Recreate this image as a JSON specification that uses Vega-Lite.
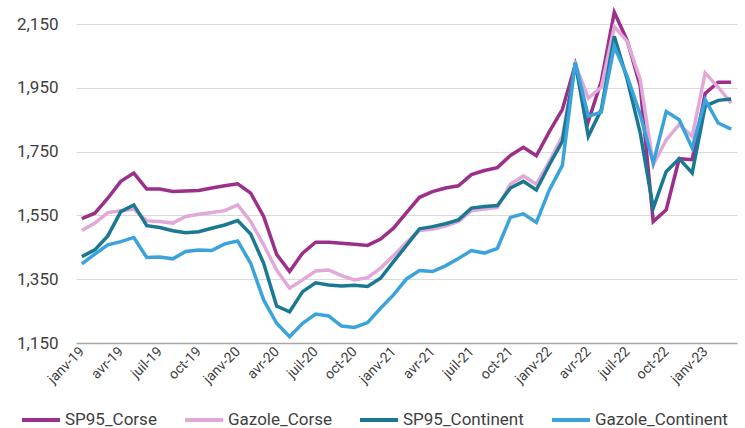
{
  "$schema": "https://vega.github.io/schema/vega-lite/v6.json",
  "width": 661,
  "height": 338,
  "autosize": {"type": "none"},
  "padding": {"left": 76, "top": 5, "right": 8, "bottom": 85},
  "background": "white",
  "config": {
    "view": {"stroke": null},
    "font": "Roboto"
  },
  "data": {
    "values": [
      {"mois":"janv-19","serie":"SP95_Corse","prix":1.540},
      {"mois":"févr-19","serie":"SP95_Corse","prix":1.557},
      {"mois":"mars-19","serie":"SP95_Corse","prix":1.604},
      {"mois":"avr-19","serie":"SP95_Corse","prix":1.657},
      {"mois":"mai-19","serie":"SP95_Corse","prix":1.683},
      {"mois":"juin-19","serie":"SP95_Corse","prix":1.633},
      {"mois":"juil-19","serie":"SP95_Corse","prix":1.633},
      {"mois":"août-19","serie":"SP95_Corse","prix":1.625},
      {"mois":"sept-19","serie":"SP95_Corse","prix":1.627},
      {"mois":"oct-19","serie":"SP95_Corse","prix":1.628},
      {"mois":"nov-19","serie":"SP95_Corse","prix":1.636},
      {"mois":"déc-19","serie":"SP95_Corse","prix":1.643},
      {"mois":"janv-20","serie":"SP95_Corse","prix":1.649},
      {"mois":"févr-20","serie":"SP95_Corse","prix":1.620},
      {"mois":"mars-20","serie":"SP95_Corse","prix":1.547},
      {"mois":"avr-20","serie":"SP95_Corse","prix":1.428},
      {"mois":"mai-20","serie":"SP95_Corse","prix":1.374},
      {"mois":"juin-20","serie":"SP95_Corse","prix":1.432},
      {"mois":"juil-20","serie":"SP95_Corse","prix":1.466},
      {"mois":"août-20","serie":"SP95_Corse","prix":1.466},
      {"mois":"sept-20","serie":"SP95_Corse","prix":1.463},
      {"mois":"oct-20","serie":"SP95_Corse","prix":1.460},
      {"mois":"nov-20","serie":"SP95_Corse","prix":1.456},
      {"mois":"déc-20","serie":"SP95_Corse","prix":1.476},
      {"mois":"janv-21","serie":"SP95_Corse","prix":1.510},
      {"mois":"févr-21","serie":"SP95_Corse","prix":1.559},
      {"mois":"mars-21","serie":"SP95_Corse","prix":1.607},
      {"mois":"avr-21","serie":"SP95_Corse","prix":1.625},
      {"mois":"mai-21","serie":"SP95_Corse","prix":1.636},
      {"mois":"juin-21","serie":"SP95_Corse","prix":1.643},
      {"mois":"juil-21","serie":"SP95_Corse","prix":1.678},
      {"mois":"août-21","serie":"SP95_Corse","prix":1.691},
      {"mois":"sept-21","serie":"SP95_Corse","prix":1.700},
      {"mois":"oct-21","serie":"SP95_Corse","prix":1.738},
      {"mois":"nov-21","serie":"SP95_Corse","prix":1.764},
      {"mois":"déc-21","serie":"SP95_Corse","prix":1.737},
      {"mois":"janv-22","serie":"SP95_Corse","prix":1.813},
      {"mois":"févr-22","serie":"SP95_Corse","prix":1.882},
      {"mois":"mars-22","serie":"SP95_Corse","prix":2.023},
      {"mois":"avr-22","serie":"SP95_Corse","prix":1.845},
      {"mois":"mai-22","serie":"SP95_Corse","prix":1.971},
      {"mois":"juin-22","serie":"SP95_Corse","prix":2.187},
      {"mois":"juil-22","serie":"SP95_Corse","prix":2.098},
      {"mois":"août-22","serie":"SP95_Corse","prix":1.955},
      {"mois":"sept-22","serie":"SP95_Corse","prix":1.531},
      {"mois":"oct-22","serie":"SP95_Corse","prix":1.568},
      {"mois":"nov-22","serie":"SP95_Corse","prix":1.728},
      {"mois":"déc-22","serie":"SP95_Corse","prix":1.725},
      {"mois":"janv-23","serie":"SP95_Corse","prix":1.933},
      {"mois":"févr-23","serie":"SP95_Corse","prix":1.968},
      {"mois":"mars-23","serie":"SP95_Corse","prix":1.968},

      {"mois":"janv-19","serie":"Gazole_Corse","prix":1.503},
      {"mois":"févr-19","serie":"Gazole_Corse","prix":1.526},
      {"mois":"mars-19","serie":"Gazole_Corse","prix":1.559},
      {"mois":"avr-19","serie":"Gazole_Corse","prix":1.565},
      {"mois":"mai-19","serie":"Gazole_Corse","prix":1.570},
      {"mois":"juin-19","serie":"Gazole_Corse","prix":1.533},
      {"mois":"juil-19","serie":"Gazole_Corse","prix":1.531},
      {"mois":"août-19","serie":"Gazole_Corse","prix":1.526},
      {"mois":"sept-19","serie":"Gazole_Corse","prix":1.547},
      {"mois":"oct-19","serie":"Gazole_Corse","prix":1.554},
      {"mois":"nov-19","serie":"Gazole_Corse","prix":1.559},
      {"mois":"déc-19","serie":"Gazole_Corse","prix":1.565},
      {"mois":"janv-20","serie":"Gazole_Corse","prix":1.583},
      {"mois":"févr-20","serie":"Gazole_Corse","prix":1.531},
      {"mois":"mars-20","serie":"Gazole_Corse","prix":1.458},
      {"mois":"avr-20","serie":"Gazole_Corse","prix":1.379},
      {"mois":"mai-20","serie":"Gazole_Corse","prix":1.322},
      {"mois":"juin-20","serie":"Gazole_Corse","prix":1.348},
      {"mois":"juil-20","serie":"Gazole_Corse","prix":1.376},
      {"mois":"août-20","serie":"Gazole_Corse","prix":1.379},
      {"mois":"sept-20","serie":"Gazole_Corse","prix":1.361},
      {"mois":"oct-20","serie":"Gazole_Corse","prix":1.348},
      {"mois":"nov-20","serie":"Gazole_Corse","prix":1.355},
      {"mois":"déc-20","serie":"Gazole_Corse","prix":1.385},
      {"mois":"janv-21","serie":"Gazole_Corse","prix":1.424},
      {"mois":"févr-21","serie":"Gazole_Corse","prix":1.465},
      {"mois":"mars-21","serie":"Gazole_Corse","prix":1.503},
      {"mois":"avr-21","serie":"Gazole_Corse","prix":1.507},
      {"mois":"mai-21","serie":"Gazole_Corse","prix":1.517},
      {"mois":"juin-21","serie":"Gazole_Corse","prix":1.531},
      {"mois":"juil-21","serie":"Gazole_Corse","prix":1.565},
      {"mois":"août-21","serie":"Gazole_Corse","prix":1.570},
      {"mois":"sept-21","serie":"Gazole_Corse","prix":1.575},
      {"mois":"oct-21","serie":"Gazole_Corse","prix":1.648},
      {"mois":"nov-21","serie":"Gazole_Corse","prix":1.674},
      {"mois":"déc-21","serie":"Gazole_Corse","prix":1.648},
      {"mois":"janv-22","serie":"Gazole_Corse","prix":1.719},
      {"mois":"févr-22","serie":"Gazole_Corse","prix":1.798},
      {"mois":"mars-22","serie":"Gazole_Corse","prix":2.023},
      {"mois":"avr-22","serie":"Gazole_Corse","prix":1.918},
      {"mois":"mai-22","serie":"Gazole_Corse","prix":1.952},
      {"mois":"juin-22","serie":"Gazole_Corse","prix":2.142},
      {"mois":"juil-22","serie":"Gazole_Corse","prix":2.096},
      {"mois":"août-22","serie":"Gazole_Corse","prix":1.976},
      {"mois":"sept-22","serie":"Gazole_Corse","prix":1.709},
      {"mois":"oct-22","serie":"Gazole_Corse","prix":1.787},
      {"mois":"nov-22","serie":"Gazole_Corse","prix":1.835},
      {"mois":"déc-22","serie":"Gazole_Corse","prix":1.798},
      {"mois":"janv-23","serie":"Gazole_Corse","prix":1.997},
      {"mois":"févr-23","serie":"Gazole_Corse","prix":1.952},
      {"mois":"mars-23","serie":"Gazole_Corse","prix":1.902},

      {"mois":"janv-19","serie":"SP95_Continent","prix":1.421},
      {"mois":"févr-19","serie":"SP95_Continent","prix":1.442},
      {"mois":"mars-19","serie":"SP95_Continent","prix":1.486},
      {"mois":"avr-19","serie":"SP95_Continent","prix":1.562},
      {"mois":"mai-19","serie":"SP95_Continent","prix":1.583},
      {"mois":"juin-19","serie":"SP95_Continent","prix":1.518},
      {"mois":"juil-19","serie":"SP95_Continent","prix":1.512},
      {"mois":"août-19","serie":"SP95_Continent","prix":1.502},
      {"mois":"sept-19","serie":"SP95_Continent","prix":1.496},
      {"mois":"oct-19","serie":"SP95_Continent","prix":1.499},
      {"mois":"nov-19","serie":"SP95_Continent","prix":1.510},
      {"mois":"déc-19","serie":"SP95_Continent","prix":1.520},
      {"mois":"janv-20","serie":"SP95_Continent","prix":1.534},
      {"mois":"févr-20","serie":"SP95_Continent","prix":1.492},
      {"mois":"mars-20","serie":"SP95_Continent","prix":1.400},
      {"mois":"avr-20","serie":"SP95_Continent","prix":1.266},
      {"mois":"mai-20","serie":"SP95_Continent","prix":1.248},
      {"mois":"juin-20","serie":"SP95_Continent","prix":1.311},
      {"mois":"juil-20","serie":"SP95_Continent","prix":1.339},
      {"mois":"août-20","serie":"SP95_Continent","prix":1.332},
      {"mois":"sept-20","serie":"SP95_Continent","prix":1.329},
      {"mois":"oct-20","serie":"SP95_Continent","prix":1.331},
      {"mois":"nov-20","serie":"SP95_Continent","prix":1.327},
      {"mois":"déc-20","serie":"SP95_Continent","prix":1.353},
      {"mois":"janv-21","serie":"SP95_Continent","prix":1.405},
      {"mois":"févr-21","serie":"SP95_Continent","prix":1.456},
      {"mois":"mars-21","serie":"SP95_Continent","prix":1.508},
      {"mois":"avr-21","serie":"SP95_Continent","prix":1.515},
      {"mois":"mai-21","serie":"SP95_Continent","prix":1.524},
      {"mois":"juin-21","serie":"SP95_Continent","prix":1.536},
      {"mois":"juil-21","serie":"SP95_Continent","prix":1.573},
      {"mois":"août-21","serie":"SP95_Continent","prix":1.578},
      {"mois":"sept-21","serie":"SP95_Continent","prix":1.581},
      {"mois":"oct-21","serie":"SP95_Continent","prix":1.636},
      {"mois":"nov-21","serie":"SP95_Continent","prix":1.657},
      {"mois":"déc-21","serie":"SP95_Continent","prix":1.630},
      {"mois":"janv-22","serie":"SP95_Continent","prix":1.709},
      {"mois":"févr-22","serie":"SP95_Continent","prix":1.782},
      {"mois":"mars-22","serie":"SP95_Continent","prix":2.028},
      {"mois":"avr-22","serie":"SP95_Continent","prix":1.798},
      {"mois":"mai-22","serie":"SP95_Continent","prix":1.882},
      {"mois":"juin-22","serie":"SP95_Continent","prix":2.112},
      {"mois":"juil-22","serie":"SP95_Continent","prix":1.976},
      {"mois":"août-22","serie":"SP95_Continent","prix":1.808},
      {"mois":"sept-22","serie":"SP95_Continent","prix":1.573},
      {"mois":"oct-22","serie":"SP95_Continent","prix":1.688},
      {"mois":"nov-22","serie":"SP95_Continent","prix":1.728},
      {"mois":"déc-22","serie":"SP95_Continent","prix":1.683},
      {"mois":"janv-23","serie":"SP95_Continent","prix":1.893},
      {"mois":"févr-23","serie":"SP95_Continent","prix":1.911},
      {"mois":"mars-23","serie":"SP95_Continent","prix":1.915},

      {"mois":"janv-19","serie":"Gazole_Continent","prix":1.398},
      {"mois":"févr-19","serie":"Gazole_Continent","prix":1.429},
      {"mois":"mars-19","serie":"Gazole_Continent","prix":1.458},
      {"mois":"avr-19","serie":"Gazole_Continent","prix":1.468},
      {"mois":"mai-19","serie":"Gazole_Continent","prix":1.481},
      {"mois":"juin-19","serie":"Gazole_Continent","prix":1.418},
      {"mois":"juil-19","serie":"Gazole_Continent","prix":1.420},
      {"mois":"août-19","serie":"Gazole_Continent","prix":1.414},
      {"mois":"sept-19","serie":"Gazole_Continent","prix":1.437},
      {"mois":"oct-19","serie":"Gazole_Continent","prix":1.442},
      {"mois":"nov-19","serie":"Gazole_Continent","prix":1.440},
      {"mois":"déc-19","serie":"Gazole_Continent","prix":1.461},
      {"mois":"janv-20","serie":"Gazole_Continent","prix":1.470},
      {"mois":"févr-20","serie":"Gazole_Continent","prix":1.400},
      {"mois":"mars-20","serie":"Gazole_Continent","prix":1.285},
      {"mois":"avr-20","serie":"Gazole_Continent","prix":1.212},
      {"mois":"mai-20","serie":"Gazole_Continent","prix":1.170},
      {"mois":"juin-20","serie":"Gazole_Continent","prix":1.212},
      {"mois":"juil-20","serie":"Gazole_Continent","prix":1.241},
      {"mois":"août-20","serie":"Gazole_Continent","prix":1.235},
      {"mois":"sept-20","serie":"Gazole_Continent","prix":1.203},
      {"mois":"oct-20","serie":"Gazole_Continent","prix":1.199},
      {"mois":"nov-20","serie":"Gazole_Continent","prix":1.214},
      {"mois":"déc-20","serie":"Gazole_Continent","prix":1.259},
      {"mois":"janv-21","serie":"Gazole_Continent","prix":1.301},
      {"mois":"févr-21","serie":"Gazole_Continent","prix":1.351},
      {"mois":"mars-21","serie":"Gazole_Continent","prix":1.377},
      {"mois":"avr-21","serie":"Gazole_Continent","prix":1.374},
      {"mois":"mai-21","serie":"Gazole_Continent","prix":1.392},
      {"mois":"juin-21","serie":"Gazole_Continent","prix":1.415},
      {"mois":"juil-21","serie":"Gazole_Continent","prix":1.440},
      {"mois":"août-21","serie":"Gazole_Continent","prix":1.432},
      {"mois":"sept-21","serie":"Gazole_Continent","prix":1.447},
      {"mois":"oct-21","serie":"Gazole_Continent","prix":1.544},
      {"mois":"nov-21","serie":"Gazole_Continent","prix":1.555},
      {"mois":"déc-21","serie":"Gazole_Continent","prix":1.528},
      {"mois":"janv-22","serie":"Gazole_Continent","prix":1.630},
      {"mois":"févr-22","serie":"Gazole_Continent","prix":1.707},
      {"mois":"mars-22","serie":"Gazole_Continent","prix":2.030},
      {"mois":"avr-22","serie":"Gazole_Continent","prix":1.861},
      {"mois":"mai-22","serie":"Gazole_Continent","prix":1.874},
      {"mois":"juin-22","serie":"Gazole_Continent","prix":2.080},
      {"mois":"juil-22","serie":"Gazole_Continent","prix":1.986},
      {"mois":"août-22","serie":"Gazole_Continent","prix":1.866},
      {"mois":"sept-22","serie":"Gazole_Continent","prix":1.714},
      {"mois":"oct-22","serie":"Gazole_Continent","prix":1.876},
      {"mois":"nov-22","serie":"Gazole_Continent","prix":1.850},
      {"mois":"déc-22","serie":"Gazole_Continent","prix":1.761},
      {"mois":"janv-23","serie":"Gazole_Continent","prix":1.913},
      {"mois":"févr-23","serie":"Gazole_Continent","prix":1.840},
      {"mois":"mars-23","serie":"Gazole_Continent","prix":1.821}
    ]
  },
  "mark": {"type": "line", "strokeWidth": 3.5, "clip": false, "strokeJoin": "miter"},
  "encoding": {
    "x": {
      "field": "mois",
      "type": "ordinal",
      "sort": null,
      "scale": {"type": "point", "padding": 0.45},
      "axis": {
        "title": null,
        "values": ["janv-19","avr-19","juil-19","oct-19","janv-20","avr-20","juil-20","oct-20","janv-21","avr-21","juil-21","oct-21","janv-22","avr-22","juil-22","oct-22","janv-23"],
        "labelAngle": -45,
        "labelAlign": "right",
        "labelBaseline": "middle",
        "labelFontSize": 14,
        "labelColor": "#404040",
        "labelPadding": 6,
        "ticks": false,
        "grid": false,
        "domain": true,
        "domainColor": "#a6a6a6",
        "domainWidth": 1.5
      }
    },
    "y": {
      "field": "prix",
      "type": "quantitative",
      "scale": {"domain": [1.15, 2.21], "nice": false, "zero": false},
      "axis": {
        "title": null,
        "values": [1.15, 1.35, 1.55, 1.75, 1.95, 2.15],
        "labelExpr": "replace(format(datum.value, '.3f'), '.', ',')",
        "labelFontSize": 17,
        "labelColor": "#404040",
        "labelPadding": 18,
        "ticks": false,
        "domain": false,
        "grid": true,
        "gridColor": "#d9d9d9",
        "gridWidth": 1
      }
    },
    "color": {
      "field": "serie",
      "type": "nominal",
      "sort": null,
      "scale": {
        "domain": ["SP95_Corse", "Gazole_Corse", "SP95_Continent", "Gazole_Continent"],
        "range": ["#9c2f8a", "#e2a8d8", "#1b7893", "#3aa3db"]
      },
      "legend": {
        "title": null,
        "orient": "none",
        "direction": "horizontal",
        "legendX": -56,
        "legendY": 394,
        "symbolType": "stroke",
        "symbolSize": 1444,
        "symbolStrokeWidth": 4,
        "labelFontSize": 17,
        "labelColor": "#404040",
        "labelOffset": 3,
        "columnPadding": 20,
        "labelLimit": 300
      }
    }
  }
}
